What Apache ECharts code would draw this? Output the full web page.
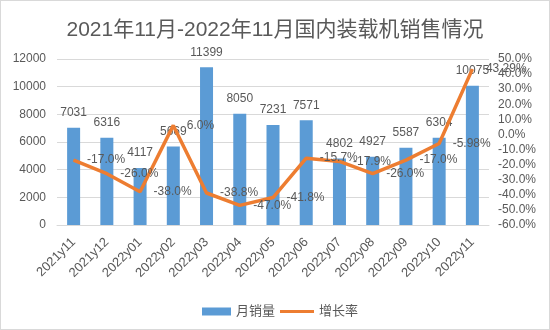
<!DOCTYPE html>
<html><head><meta charset="utf-8">
<script src="https://cdn.jsdelivr.net/npm/echarts@6/dist/echarts.min.js"></script>
<style>html,body{margin:0;padding:0;background:#fff}#c{width:550px;height:330px;box-sizing:border-box;border:1px solid #d9d9d9}</style>
</head><body><div id="c"></div>
<script>
const categories = ['2021y11','2021y12','2022y01','2022y02','2022y03','2022y04','2022y05','2022y06','2022y07','2022y08','2022y09','2022y10','2022y11'];
const sales = [7031,6316,4117,5669,11399,8050,7231,7571,4802,4927,5587,6304,10075];
const growth = [-17.0,-26.0,-38.0,6.0,-38.8,-47.0,-41.8,-15.7,-17.9,-26.0,-17.0,-5.98,43.29];
const growthLabels = ['-17.0%','-26.0%','-38.0%','6.0%','-38.8%','-47.0%','-41.8%','-15.7%','-17.9%','-26.0%','-17.0%','-5.98%','43.29%'];
const leftTicks = [0,12000,2000];
const rightTicks = [-60,50,10];

const font = '"Liberation Sans","Noto Sans CJK SC",sans-serif';
const txt = '#595959';
const chart = echarts.init(document.getElementById('c'));
chart.setOption({
  animation:false,
  textStyle:{fontFamily:font},
  title:{text:'2021年11月-2022年11月国内装载机销售情况',left:'center',top:14,
    textStyle:{fontSize:21,fontWeight:'normal',color:txt,fontFamily:font}},
  grid:{left:56,right:60,top:58,bottom:104,containLabel:false},
  legend:[
    {left:196,top:299,itemGap:4,itemWidth:29,itemHeight:8,
     textStyle:{color:txt,fontSize:13,fontFamily:font},
     data:[{name:'月销量',icon:'rect'}]},
    {left:274,top:299,itemGap:4,itemWidth:34,itemHeight:3,
     textStyle:{color:txt,fontSize:13,fontFamily:font},
     data:[{name:'增长率',icon:'rect'}]}
  ],
  xAxis:{type:'category',data:categories,
    axisLine:{lineStyle:{color:'#d9d9d9'}},axisTick:{show:false},
    axisLabel:{rotate:45,color:txt,fontSize:13,interval:0,margin:15}},
  yAxis:[
    {type:'value',min:leftTicks[0],max:leftTicks[1],interval:leftTicks[2],
     axisLabel:{color:txt,fontSize:12,margin:11,formatter:v=>String(v)},
     splitLine:{lineStyle:{color:'#d9d9d9'}},axisLine:{show:false}},
    {type:'value',min:rightTicks[0],max:rightTicks[1],interval:rightTicks[2],
     axisLabel:{color:txt,fontSize:12,margin:9,formatter:v=>v.toFixed(1)+'%'},
     splitLine:{show:false},axisLine:{show:false}}
  ],
  series:[
    {name:'月销量',type:'bar',data:sales,barWidth:13,
     itemStyle:{color:'#5B9BD5'},
     label:{show:true,position:'top',color:txt,fontSize:12,distance:9}},
    {name:'增长率',type:'line',yAxisIndex:1,data:growth,symbol:'circle',symbolSize:1,showSymbol:true,
     lineStyle:{color:'#ED7D31',width:3.5},itemStyle:{color:'#ED7D31'},
     labelLayout:{hideOverlap:false},
     label:{show:true,position:'right',color:txt,fontSize:12,distance:13,
       formatter:p=>growthLabels[p.dataIndex]}}
  ]
});
</script></body></html>
